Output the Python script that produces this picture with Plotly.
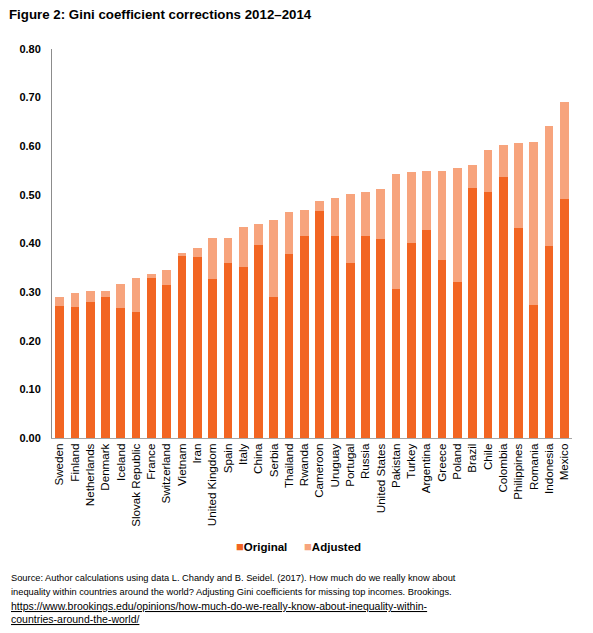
import plotly.graph_objects as go

# Gini coefficients 2012-2014
countries = [
    "Sweden", "Finland", "Netherlands", "Denmark", "Iceland", "Slovak Republic",
    "France", "Switzerland", "Vietnam", "Iran", "United Kingdom", "Spain", "Italy",
    "China", "Serbia", "Thailand", "Rwanda", "Cameroon", "Uruguay", "Portugal",
    "Russia", "United States", "Pakistan", "Turkey", "Argentina", "Greece", "Poland",
    "Brazil", "Chile", "Colombia", "Philippines", "Romania", "Indonesia", "Mexico",
]
original = [
    0.272, 0.270, 0.279, 0.290, 0.268, 0.260, 0.330, 0.315, 0.375, 0.373, 0.326,
    0.359, 0.351, 0.396, 0.291, 0.378, 0.416, 0.466, 0.416, 0.360, 0.416, 0.409,
    0.306, 0.401, 0.427, 0.366, 0.320, 0.514, 0.505, 0.536, 0.431, 0.274, 0.394,
    0.492,
]
adjusted = [
    0.289, 0.299, 0.302, 0.303, 0.317, 0.329, 0.338, 0.346, 0.380, 0.390, 0.412,
    0.412, 0.433, 0.441, 0.448, 0.464, 0.469, 0.488, 0.493, 0.501, 0.505, 0.512,
    0.543, 0.547, 0.549, 0.549, 0.556, 0.561, 0.592, 0.602, 0.606, 0.608, 0.642,
    0.692,
]
y_ticks = [0.0, 0.1, 0.2, 0.3, 0.4, 0.5, 0.6, 0.7, 0.8]

ORANGE = "#F26522"
LIGHT = "#F7A47D"
FONT = "Liberation Sans, Arial, sans-serif"

W, H = 593, 633
PAD = 8  # page body margin, the figure sits 8px in from the window corner
# plot area in window pixels
X0, X1, Y0, Y1 = 52, 572, 49, 438


def px_x(x):
    return (x - X0) / (X1 - X0)


def px_y(y):
    return (Y1 - y) / (Y1 - Y0)


# adjusted part is stacked on top of the original value
extra = [a - o for a, o in zip(adjusted, original)]

fig = go.Figure()
fig.add_trace(go.Bar(x=countries, y=original, marker=dict(color=ORANGE, line=dict(width=0)),
                     showlegend=False))
fig.add_trace(go.Bar(x=countries, y=extra, marker=dict(color=LIGHT, line=dict(width=0)),
                     showlegend=False))

# legend entries: small square glyph right next to the bold label,
# one legend each so they can sit close together
for name, col, lg in [("Original", ORANGE, "legend"), ("Adjusted", LIGHT, "legend2")]:
    fig.add_trace(go.Scatter(
        x=[None], y=[None], mode="markers", legend=lg, showlegend=True,
        name=f'<span style="color:{col};font-size:13px">■</span><b>{name}</b>',
        marker=dict(symbol="square", size=1, color="rgba(0,0,0,0)",
                    line=dict(width=0))))

legend_style = dict(orientation="h", xanchor="left", yanchor="middle", itemwidth=30,
                    bgcolor="rgba(0,0,0,0)",
                    font=dict(family=FONT, size=11.5, color="black"))

fig.update_layout(
    width=W, height=H,
    margin=dict(l=X0 - PAD, r=W - (X1 - PAD), t=Y0 - PAD, b=H - (Y1 - PAD), autoexpand=False),
    barmode="stack", bargap=0.43,
    plot_bgcolor="white", paper_bgcolor="white",
    font=dict(family=FONT, color="black", size=11),
    title=dict(text="<b>Figure 2: Gini coefficient corrections 2012–2014</b>",
               xref="container", yref="container", x=(9 - PAD) / W, y=1.0,
               xanchor="left", yanchor="top", pad=dict(t=2, l=0),
               font=dict(family=FONT, size=13.3, color="black")),
    legend=dict(x=px_x(196), y=px_y(546), **legend_style),
    legend2=dict(x=px_x(264), y=px_y(546), **legend_style),
    showlegend=True,
)

fig.update_xaxes(
    type="category", tickangle=-90, showgrid=False, ticks="",
    showline=True, linecolor="#A6A6A6", linewidth=1,
    tickfont=dict(family=FONT, size=11.6, color="black"),
)
fig.update_yaxes(
    range=[0, 0.8], tickvals=y_ticks, tickformat=".2f", showgrid=False, ticks="",
    zeroline=False, showline=True, linecolor="#8C8C8C", linewidth=1,
    ticklabelstandoff=8,
    tickfont=dict(family=FONT, size=11, color="black", weight="bold"),
)

source_lines = [
    ("Source: Author calculations using data L. Chandy and B. Seidel. (2017). How much do we really know about", 9.3, 578),
    ("inequality within countries around the world? Adjusting Gini coefficients for missing top incomes. Brookings.", 9.3, 592),
    ("<u>https://www.brookings.edu/opinions/how-much-do-we-really-know-about-inequality-within-</u>", 10.5, 606),
    ("<u>countries-around-the-world/</u>", 10.5, 619),
]
for text, size, ypix in source_lines:
    fig.add_annotation(
        text=text, xref="paper", yref="paper",
        x=px_x(9), y=px_y(ypix),
        xanchor="left", yanchor="middle", showarrow=False,
        font=dict(family=FONT, size=size, color="black"),
    )

fig.write_html("out.html")
